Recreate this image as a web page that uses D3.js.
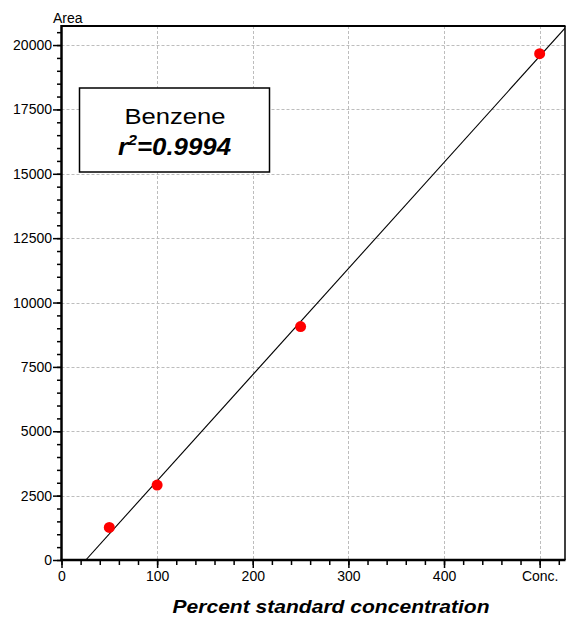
<!DOCTYPE html>
<html>
<head>
<meta charset="utf-8">
<script src="https://cdn.jsdelivr.net/npm/d3@7/dist/d3.min.js"></script>
<style>
  html, body { margin: 0; padding: 0; background: #fff; }
  svg { display: block; font-family: "Liberation Sans", Arial, Helvetica, sans-serif; }
</style>
</head>
<body>
<svg id="chart" width="566" height="619"></svg>
<script>
// Calibration standards: percent of standard concentration vs. peak area
const concentrations = [50, 100, 250, 500];
const areas = [1265, 2911, 9068, 19666];

// Axis ticks
const xMajorTicks = [0, 100, 200, 300, 400, 500];
const xTickLabels = ["0", "100", "200", "300", "400", "Conc."];
const yMajorTicks = [0, 2500, 5000, 7500, 10000, 12500, 15000, 17500, 20000];
const yTickLabels = ["0", "2500", "5000", "7500", "10000", "12500", "15000", "17500", "20000"];

const compound = "Benzene";
const rSquared = "0.9994";

const svg = d3.select("#chart");
const plotLeft = 61.5, plotRight = 565, plotTop = 26, plotBottom = 560;

const x = d3.scaleLinear().domain([0, 526.5]).range([plotLeft, plotRight]);
const y = d3.scaleLinear().domain([0, 20740]).range([plotBottom, plotTop]);

// Dashed grid at the major ticks
const grid = svg.append("g")
  .attr("stroke", "#bdbdbd")
  .attr("stroke-width", 1)
  .attr("stroke-dasharray", "3,2");
grid.selectAll("line.v").data(xMajorTicks.filter(d => d > 0)).join("line")
  .attr("class", "v")
  .attr("x1", d => Math.round(x(d)) + 0.5).attr("x2", d => Math.round(x(d)) + 0.5)
  .attr("y1", plotTop).attr("y2", plotBottom);
grid.selectAll("line.h").data(yMajorTicks.filter(d => d > 0)).join("line")
  .attr("class", "h")
  .attr("y1", d => Math.round(y(d)) + 0.5).attr("y2", d => Math.round(y(d)) + 0.5)
  .attr("x1", plotLeft).attr("x2", plotRight);

// Least-squares calibration line
const mx = d3.mean(concentrations), my = d3.mean(areas);
const sxy = d3.sum(concentrations, (c, i) => (c - mx) * (areas[i] - my));
const sxx = d3.sum(concentrations, c => (c - mx) * (c - mx));
const slope = sxy / sxx;
const intercept = my - slope * mx;

svg.append("clipPath").attr("id", "plotClip")
  .append("rect").attr("x", plotLeft).attr("y", plotTop)
  .attr("width", plotRight - plotLeft).attr("height", plotBottom - plotTop);

const xStart = -intercept / slope;
const xEnd = x.domain()[1] + 5;
svg.append("line")
  .attr("clip-path", "url(#plotClip)")
  .attr("x1", x(xStart)).attr("y1", y(0))
  .attr("x2", x(xEnd)).attr("y2", y(slope * xEnd + intercept))
  .attr("stroke", "#000").attr("stroke-width", 1.1);

// Calibration points
svg.append("g").selectAll("circle").data(concentrations).join("circle")
  .attr("cx", d => x(d))
  .attr("cy", (d, i) => y(areas[i]))
  .attr("r", 5.5)
  .attr("fill", "#ff0000");

// Axes: minor ticks then labelled major ticks
const xMinor = d3.range(0, 521, 20);
svg.append("g").attr("transform", `translate(0,${plotBottom})`)
  .call(d3.axisBottom(x).tickValues(xMinor).tickSize(5).tickSizeOuter(0).tickFormat(""))
  .call(g => g.select(".domain").remove())
  .call(g => g.selectAll(".tick line").attr("stroke-width", 1.5));
svg.append("g").attr("transform", `translate(0,${plotBottom})`)
  .call(d3.axisBottom(x).tickValues(xMajorTicks).tickSize(8).tickSizeOuter(0).tickPadding(3)
    .tickFormat((d, i) => xTickLabels[i]))
  .call(g => g.select(".domain").remove())
  .call(g => g.selectAll(".tick line").attr("stroke-width", 1.5))
  .call(g => g.selectAll("text").attr("font-size", 14).attr("fill", "#000")
    .attr("font-family", "'Liberation Sans', Arial, sans-serif"));

const yMinor = d3.range(0, 20501, 500);
svg.append("g").attr("transform", `translate(${plotLeft},0)`)
  .call(d3.axisLeft(y).tickValues(yMinor).tickSize(4.5).tickSizeOuter(0).tickFormat(""))
  .call(g => g.select(".domain").remove())
  .call(g => g.selectAll(".tick line").attr("stroke-width", 1.5));
svg.append("g").attr("transform", `translate(${plotLeft},0)`)
  .call(d3.axisLeft(y).tickValues(yMajorTicks).tickSize(8.5).tickSizeOuter(0).tickPadding(1)
    .tickFormat((d, i) => yTickLabels[i]))
  .call(g => g.select(".domain").remove())
  .call(g => g.selectAll(".tick line").attr("stroke-width", 1.5))
  .call(g => g.selectAll("text").attr("font-size", 14).attr("fill", "#000")
    .attr("font-family", "'Liberation Sans', Arial, sans-serif"));

// Frame
svg.append("line").attr("x1", plotLeft).attr("x2", plotLeft).attr("y1", plotTop - 1).attr("y2", plotBottom + 1)
  .attr("stroke", "#000").attr("stroke-width", 2.5);
svg.append("line").attr("x1", plotLeft - 1).attr("x2", plotRight + 0.5).attr("y1", plotBottom).attr("y2", plotBottom)
  .attr("stroke", "#000").attr("stroke-width", 2.5);
svg.append("line").attr("x1", plotLeft).attr("x2", plotRight + 0.5).attr("y1", plotTop).attr("y2", plotTop)
  .attr("stroke", "#000").attr("stroke-width", 2);
svg.append("line").attr("x1", plotRight).attr("x2", plotRight).attr("y1", plotTop).attr("y2", plotBottom)
  .attr("stroke", "#000").attr("stroke-width", 1.5);

// Axis titles
svg.append("text").attr("x", 53).attr("y", 23)
  .attr("font-size", 14).text("Area");
svg.append("text").attr("x", 331).attr("y", 613)
  .attr("text-anchor", "middle")
  .attr("font-size", 18).attr("font-weight", "bold").attr("font-style", "italic")
  .attr("textLength", 317).attr("lengthAdjust", "spacingAndGlyphs")
  .text("Percent standard concentration");

// Compound label box
svg.append("rect").attr("x", 79.5).attr("y", 88).attr("width", 190).attr("height", 84)
  .attr("fill", "#fff").attr("stroke", "#000").attr("stroke-width", 1.5);
svg.append("text").attr("x", 175).attr("y", 123.5)
  .attr("text-anchor", "middle").attr("font-size", 22)
  .attr("textLength", 101).attr("lengthAdjust", "spacingAndGlyphs")
  .text(compound);
const r2 = svg.append("text").attr("x", 174.5).attr("y", 154.5)
  .attr("text-anchor", "middle").attr("font-size", 24)
  .attr("font-weight", "bold").attr("font-style", "italic")
  .attr("textLength", 113).attr("lengthAdjust", "spacingAndGlyphs");
r2.append("tspan").text("r");
r2.append("tspan").attr("font-size", 15).attr("dy", -10).text("2");
r2.append("tspan").attr("dy", 10).text("=" + rSquared);
</script>
</body>
</html>
